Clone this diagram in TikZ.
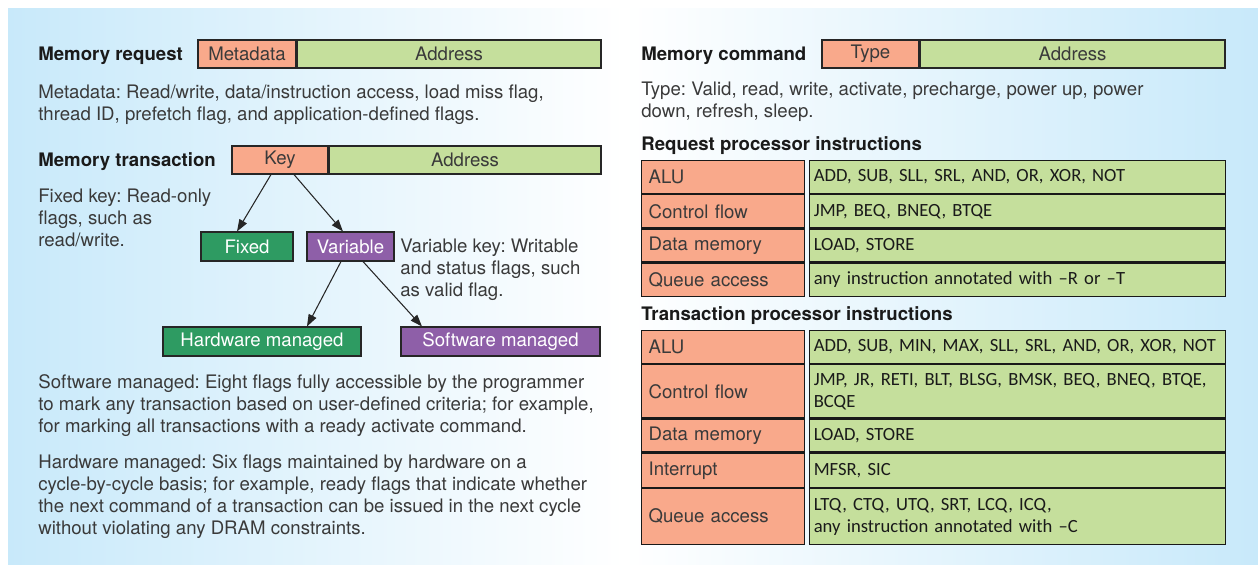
\documentclass[tikz,border=0pt]{standalone}
\usepackage{fontspec}
\setmainfont{TeX Gyre Heros}
\newfontfamily\opsfont{Carlito}
\usetikzlibrary{positioning,arrows.meta}
\frenchspacing

\definecolor{bgblue}{RGB}{200,233,250}
\definecolor{salmon}{RGB}{249,169,139}
\definecolor{leafgreen}{RGB}{197,223,156}
\definecolor{darkgreen}{RGB}{46,155,98}
\definecolor{keypurple}{RGB}{142,95,168}
\definecolor{inkgray}{RGB}{58,58,58}
\definecolor{headblack}{RGB}{26,26,26}

\begin{document}
\begin{tikzpicture}[x=0.02cm,y=-0.02cm,node distance=0pt,
   font=\fontsize{10.6}{12.5}\selectfont,
   >={Triangle[length=0.24cm,width=0.17cm]},
   field/.style={draw=black!85, line width=0.6pt, minimum height=0.56cm, inner sep=0pt},
   redfield/.style={field, fill=salmon, text=inkgray},
   greenfield/.style={field, fill=leafgreen, text=inkgray},
   flagbox/.style={field, minimum height=0.58cm, text=white},
   heading/.style={anchor=base west, inner sep=0pt, text=headblack, font=\fontsize{10.6}{12.5}\selectfont\bfseries},
   note/.style={anchor=north west, inner sep=0pt, align=left, text=inkgray},
   link/.style={->, line width=0.6pt, draw=black!85},
   cellL/.style={draw=black!90, line width=0.7pt, fill=salmon, text=inkgray, inner xsep=0.14cm,
      inner ysep=0pt, text width=2.98cm, align=left, minimum height=0.66cm},
   cellR/.style={draw=black!90, line width=0.7pt, fill=leafgreen, text=headblack, inner xsep=0.08cm,
      inner ysep=0pt, text width=8.16cm, align=left, minimum height=0.66cm,
      font=\opsfont\fontsize{10.6}{12.5}\selectfont}]
   \useasboundingbox (0,0) rectangle (1258,566);
   % background panels
   \shade[left color=bgblue, right color=white] (8,8) rectangle (624,564);
   \shade[left color=white, right color=bgblue] (624,8) rectangle (1258,564);

   % memory request
   \node[heading] (req_lbl) at (38,60.5) {Memory request};
   \node[redfield, minimum width=1.96cm] (req_meta) at (247,54) {Metadata};
   \node[greenfield, minimum width=6.08cm] (req_addr) [right=of req_meta] {Address};
   \node[note] (req_note) at (38,85) {Metadata: Read/write, data/instruction access, load miss flag,\\
      thread ID, prefetch flag, and application-defined flags.};

   % memory transaction
   \node[heading] (trn_lbl) at (38,166.5) {Memory transaction};
   \node[redfield, minimum width=1.92cm] (trn_key) at (280,160) {Key};
   \node[greenfield, minimum width=5.44cm] (trn_addr) [right=of trn_key] {Address};
   \node[note] (fix_note) at (38,189) {Fixed key: Read-only\\ flags, such as\\ read/write.};
   \node[flagbox, fill=darkgreen, minimum width=1.84cm] (fixed) at (247,246.5) {Fixed};
   \node[flagbox, fill=keypurple, minimum width=1.74cm] (var) at (350.5,246.5) {Variable};
   \node[note] (var_note) at (400,239) {Variable key: Writable\\ and status flags, such\\ as valid flag.};
   \node[flagbox, fill=darkgreen, minimum width=3.96cm] (hw) at (262,341.5) {Hardware managed};
   \node[flagbox, fill=keypurple, minimum width=3.98cm] (sw) at (500.5,341.5) {Software managed};
   \node[note] (sw_note) at (38,374) {Software managed: Eight flags fully accessible by the programmer\\
      to mark any transaction based on user-defined criteria; for example,\\
      for marking all transactions with a ready activate command.};
   \node[note] (hw_note) at (38,454) {Hardware managed: Six flags maintained by hardware on a\\
      cycle-by-cycle basis; for example, ready flags that indicate whether\\
      the next command of a transaction can be issued in the next cycle\\
      without violating any DRAM constraints.};
   \draw[link] ([xshift=-0.18cm]trn_key.south) -- ([xshift=-0.2cm]fixed.north);
   \draw[link] ([xshift=0.28cm]trn_key.south) -- ([xshift=-0.15cm]var.north);
   \draw[link] ([xshift=-0.19cm]var.south) -- ([xshift=0.9cm]hw.north);
   \draw[link] ([xshift=0.25cm]var.south) -- ([xshift=-1.57cm]sw.north);

   % memory command
   \node[heading] (cmd_lbl) at (641,60.5) {Memory command};
   \node[redfield, minimum width=1.94cm] (cmd_type) at (870.5,54) {Type};
   \node[greenfield, minimum width=6.1cm] (cmd_addr) [right=of cmd_type] {Address};
   \node[note] (cmd_note) at (641,82) {Type: Valid, read, write, activate, precharge, power up, power\\
      down, refresh, sleep.};

   % request processor instructions
   \node[heading] (rq_lbl) at (641,150.5) {Request processor instructions};
   \node[cellL, anchor=north west] (rq_alu) at (641,160) {ALU};
   \node[cellL] (rq_ctrl)  [below=of rq_alu]  {Control flow};
   \node[cellL] (rq_mem)   [below=of rq_ctrl] {Data memory};
   \node[cellL] (rq_queue) [below=of rq_mem]  {Queue access};
   \node[cellR] (rq_alu_ops)   [right=0.08cm of rq_alu]   {ADD, SUB, SLL, SRL, AND, OR, XOR, NOT};
   \node[cellR] (rq_ctrl_ops)  [right=0.08cm of rq_ctrl]  {JMP, BEQ, BNEQ, BTQE};
   \node[cellR] (rq_mem_ops)   [right=0.08cm of rq_mem]   {LOAD, STORE};
   \node[cellR] (rq_queue_ops) [right=0.08cm of rq_queue] {any instruction annotated with –R or –T};

   % transaction processor instructions
   \node[heading] (tp_lbl) at (641,320.5) {Transaction processor instructions};
   \node[cellL, anchor=north west] (tp_alu) at (641,330) {ALU};
   \node[cellL, minimum height=1.06cm] (tp_ctrl)  [below=of tp_alu]  {Control flow};
   \node[cellL] (tp_mem)   [below=of tp_ctrl] {Data memory};
   \node[cellL, minimum height=0.68cm] (tp_int)   [below=of tp_mem]  {Interrupt};
   \node[cellL, minimum height=1.12cm] (tp_queue) [below=of tp_int]  {Queue access};
   \node[cellR] (tp_alu_ops)   [right=0.08cm of tp_alu]   {ADD, SUB, MIN, MAX, SLL, SRL, AND, OR, XOR, NOT};
   \node[cellR, minimum height=1.06cm] (tp_ctrl_ops)  [right=0.08cm of tp_ctrl]
      {JMP, JR, RETI, BLT, BLSG, BMSK, BEQ, BNEQ, BTQE,\\ BCQE};
   \node[cellR] (tp_mem_ops)   [right=0.08cm of tp_mem]   {LOAD, STORE};
   \node[cellR, minimum height=0.68cm] (tp_int_ops)   [right=0.08cm of tp_int]   {MFSR, SIC};
   \node[cellR, minimum height=1.12cm] (tp_queue_ops) [right=0.08cm of tp_queue]
      {LTQ, CTQ, UTQ, SRT, LCQ, ICQ,\\ any instruction annotated with –C};
\end{tikzpicture}
\end{document}
